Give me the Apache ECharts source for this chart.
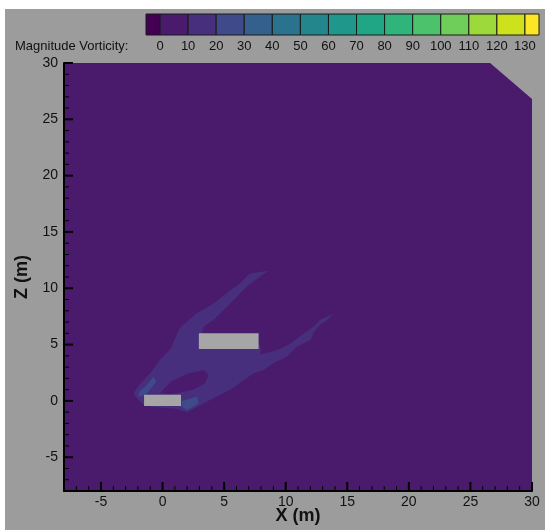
<!DOCTYPE html>
<html>
<head>
<meta charset="utf-8">
<script src="https://cdn.jsdelivr.net/npm/echarts@6.0.0/dist/echarts.min.js"></script>
<style>
  html, body { margin: 0; padding: 0; background: #fff; }
  #main { width: 545px; height: 530px; }
</style>
</head>
<body>
<div id="main"></div>
<script>
// colour levels of the legend (vorticity magnitude)
var levelEdges = [-5, 0, 10, 20, 30, 40, 50, 60, 70, 80, 90, 100, 110, 120, 130, 135];
var levelColors = ['#440154', '#4a1b6c', '#472f7d', '#3e4a89', '#33608d', '#2a728e', '#23868d',
  '#1f978b', '#21a685', '#2fb47c', '#4cc26c', '#6fcd5a', '#9dd93b', '#cde11d', '#fde725'];
var legendTicks = [0, 10, 20, 30, 40, 50, 60, 70, 80, 90, 100, 110, 120, 130];

// axis ticks (same for X and Z)
var majorTicks = [-5, 0, 5, 10, 15, 20, 25, 30];
var minorTicks = [-7, -6, -4, -3, -2, -1, 1, 2, 3, 4, 6, 7, 8, 9, 11, 12, 13, 14,
  16, 17, 18, 19, 21, 22, 23, 24, 26, 27, 28, 29];

// flow domain (0-10 level everywhere)
var domain = [[-8, -8], [30, -8], [30, 26.8], [26.6, 30], [-8, 30]];

// wake region in the 10-20 level
var wake = [[8.6, 11.55], [7.9, 11.45], [7.1, 11.3], [6.3, 10.45], [5.2, 9.55], [4.15, 8.65],
  [2.8, 7.8], [1.4, 6.5], [0.65, 4.6], [-0.2, 3.65], [-1.0, 2.45], [-1.8, 1.55], [-2.35, 0.7],
  [-2.1, 0.25], [-1.55, -0.35], [-0.75, -0.55], [1.15, -0.7], [2.0, -1.0], [2.8, -0.55],
  [3.9, 0.1], [5.5, 1.0], [7.4, 2.45], [8.2, 2.75], [9.0, 3.35], [10.1, 3.95], [10.9, 4.8],
  [12.0, 5.4], [12.3, 6.15], [12.8, 6.75], [13.4, 7.2], [13.9, 7.75], [13.6, 7.6], [12.8, 7.2],
  [12.3, 6.6], [11.5, 6.0], [10.4, 5.1], [9.3, 4.5], [7.9, 4.1], [8.0, 4.6], [7.9, 5.0],
  [6.5, 5.5], [3.2, 6.0], [3.35, 6.6], [4.15, 7.2], [4.95, 8.05], [5.5, 8.65], [6.85, 10.15],
  [7.95, 11.05]];
// calm pocket back in 0-10
var pocket = [[-0.2, 0.7], [0.65, 1.7], [2.0, 2.4], [3.35, 2.75], [3.75, 2.3], [3.45, 1.55],
  [2.5, 1.0], [1.45, 0.75], [0.65, 0.6]];
// small spots in the 20-30 level
var spotLeft = [[-0.75, 2.15], [-0.5, 1.75], [-1.2, 0.75], [-1.45, 0.5], [-1.95, 0.4],
  [-1.9, 0.8], [-1.3, 1.4]];
var spotRight = [[1.55, 0.0], [2.8, 0.4], [2.95, -0.2], [2.0, -0.8], [1.55, -0.5]];

// solid bodies [x0, z0, x1, z1]
var bodies = [[2.95, 4.6, 7.8, 6.0], [-1.5, -0.45, 1.5, 0.55]];

var FONT = 'Liberation Sans, Arial, sans-serif';
var AXMIN = -8;

function polySeries(points, color) {
  return {
    type: 'custom',
    xAxisIndex: 0,
    yAxisIndex: 0,
    silent: true,
    z: 1,
    data: [points[0]],
    renderItem: function (params, api) {
      return {
        type: 'polygon',
        shape: { points: points.map(function (p) { return api.coord(p); }) },
        style: { fill: color }
      };
    }
  };
}

// inward tick marks as black rects along the bottom (X) and left (Z) axes
function tickRects(api, values, len, width) {
  var out = [];
  values.forEach(function (v) {
    var px = api.coord([v, AXMIN]);
    var pz = api.coord([AXMIN, v]);
    out.push({ type: 'rect', z2: 50, shape: { x: px[0] - width / 2, y: px[1] - len, width: width, height: len }, style: { fill: '#000' } });
    out.push({ type: 'rect', z2: 50, shape: { x: pz[0], y: pz[1] - width / 2, width: len, height: width }, style: { fill: '#000' } });
  });
  return out;
}

function mainAxis(pos, name, extra) {
  return Object.assign({
    gridIndex: 0, type: 'value', min: AXMIN, max: 30, splitNumber: 8, position: pos, z: 10,
    axisLine: { show: true, onZero: false, lineStyle: { color: '#000', width: 2 } },
    axisTick: { show: false },
    axisLabel: { showMinLabel: false, showMaxLabel: true, color: '#111', fontSize: 14, fontFamily: FONT },
    splitLine: { show: false },
    name: name, nameLocation: 'middle',
    nameTextStyle: { color: '#111', fontSize: 18, fontWeight: 'bold', fontFamily: FONT }
  }, extra);
}

var legendData = [];
for (var i = 0; i < levelColors.length; i++) {
  legendData.push([levelEdges[i], levelEdges[i + 1], i]);
}

var xMain = mainAxis('bottom', 'X (m)', { nameGap: 16, nameMoveOverlap: false });
xMain.axisLabel.margin = 4;
var zMain = mainAxis('left', 'Z (m)', { nameGap: 30, nameRotate: 90 });
zMain.axisLabel.margin = 6;

var myChart = echarts.init(document.getElementById('main'));
myChart.setOption({
  backgroundColor: '#9c9c9c',
  animation: false,
  grid: [
    { left: 64, right: 13, top: 63, bottom: 39, outerBoundsMode: 'none' },
    { left: 146, width: 393, top: 14, height: 21, outerBoundsMode: 'none' }
  ],
  xAxis: [
    xMain,
    {
      gridIndex: 1, type: 'value', min: -5, max: 135, position: 'bottom',
      axisLine: { show: false },
      axisTick: { show: false },
      axisLabel: { customValues: legendTicks, color: '#111', fontSize: 13, fontFamily: FONT, margin: 5 },
      splitLine: { show: false }
    }
  ],
  yAxis: [
    zMain,
    { gridIndex: 1, type: 'value', min: 0, max: 1, show: false }
  ],
  graphic: [
    { type: 'rect', left: 0, top: 0, shape: { width: 545, height: 9 }, style: { fill: '#fff' } },
    { type: 'rect', left: 0, top: 0, shape: { width: 5, height: 530 }, style: { fill: '#fff' } },
    { type: 'text', left: 15, top: 40, style: { text: 'Magnitude Vorticity:', fill: '#111', font: '13px ' + FONT } }
  ],
  series: [
    polySeries(domain, levelColors[1]),
    polySeries(wake, levelColors[2]),
    polySeries(pocket, levelColors[1]),
    polySeries(spotLeft, levelColors[3]),
    polySeries(spotRight, levelColors[3]),
    {
      type: 'custom',
      xAxisIndex: 0,
      yAxisIndex: 0,
      silent: true,
      z: 2,
      data: bodies,
      renderItem: function (params, api) {
        var a = api.coord([api.value(0), api.value(3)]);
        var b = api.coord([api.value(2), api.value(1)]);
        return {
          type: 'rect',
          shape: { x: a[0], y: a[1], width: b[0] - a[0], height: b[1] - a[1] },
          style: { fill: '#a6a6a6' }
        };
      }
    },
    {
      // tick marks of both axes, drawn above the field
      type: 'custom',
      xAxisIndex: 0,
      yAxisIndex: 0,
      silent: true,
      clip: false,
      z: 30,
      data: [[AXMIN, AXMIN]],
      renderItem: function (params, api) {
        return {
          type: 'group',
          children: tickRects(api, majorTicks, 9, 2).concat(tickRects(api, minorTicks, 5, 1))
        };
      }
    },
    {
      type: 'custom',
      xAxisIndex: 1,
      yAxisIndex: 1,
      silent: true,
      data: legendData,
      renderItem: function (params, api) {
        var a = api.coord([api.value(0), 1]);
        var b = api.coord([api.value(1), 0]);
        return {
          type: 'rect',
          shape: { x: a[0], y: a[1], width: b[0] - a[0], height: b[1] - a[1] },
          style: { fill: levelColors[api.value(2)], stroke: '#1a1a1a', lineWidth: 1 }
        };
      }
    }
  ]
});
</script>
</body>
</html>
